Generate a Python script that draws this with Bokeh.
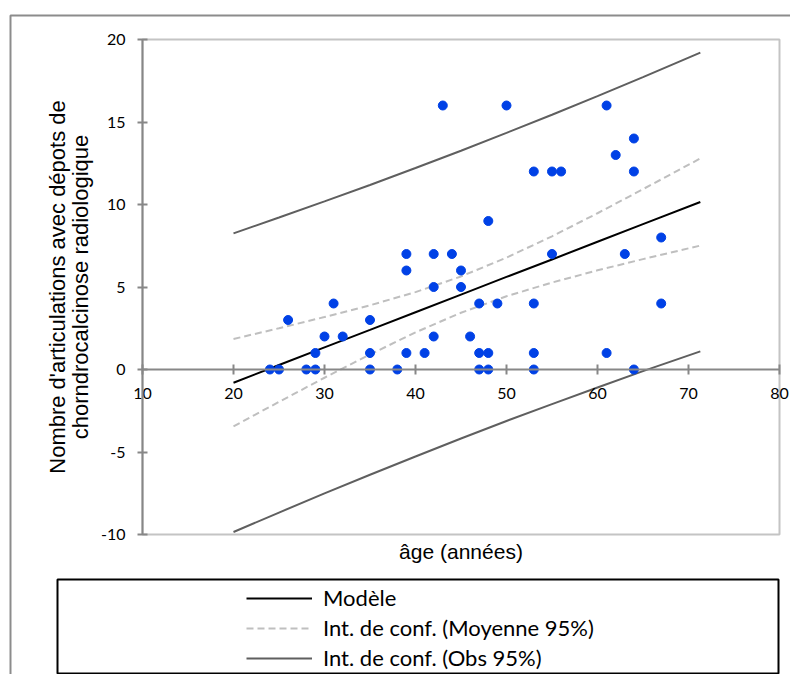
from bokeh.plotting import figure
from bokeh.models import (FixedTicker, Legend, LegendItem, Range1d,
                          ColumnDataSource, BoxAnnotation, Label)
from bokeh.embed import file_html
from bokeh.resources import INLINE

# ---- data ----
age = [24, 25, 26, 28, 29, 29, 30, 31, 32, 35, 35, 35, 38, 39, 39, 39, 41, 42, 42, 42,
       43, 44, 45, 45, 46, 47, 47, 47, 48, 48, 48, 49, 50, 53, 53, 53, 53, 55, 55, 56,
       61, 61, 62, 63, 64, 64, 64, 67, 67]
n_art = [0, 0, 3, 0, 1, 0, 2, 4, 2, 3, 1, 0, 0, 1, 6, 7, 1, 5, 2, 7,
         16, 7, 6, 5, 2, 4, 1, 0, 9, 1, 0, 4, 16, 12, 4, 1, 0, 12, 7, 12,
         16, 1, 13, 7, 14, 12, 0, 8, 4]

line_x = [20, 25, 30, 35, 40, 45, 50, 55, 60, 65, 71.3]
modele = [-0.80, 0.27, 1.34, 2.40, 3.47, 4.54, 5.61, 6.67, 7.74, 8.81, 10.15]
moy_sup = [1.85, 2.50, 3.18, 3.89, 4.69, 5.64, 6.78, 8.07, 9.47, 10.93, 12.79]
moy_inf = [-3.45, -1.96, -0.50, 0.91, 2.25, 3.44, 4.44, 5.27, 6.01, 6.69, 7.51]
obs_sup = [8.25, 9.21, 10.19, 11.18, 12.21, 13.26, 14.34, 15.44, 16.57, 17.72, 19.20]
obs_inf = [-9.85, -8.67, -7.51, -6.38, -5.27, -4.18, -3.12, -2.10, -1.09, -0.10, 1.10]

x_ticks = [10, 20, 30, 40, 50, 60, 70, 80]
y_ticks = [-10, -5, 0, 5, 10, 15, 20]
x_min, x_max = 10, 80
y_min, y_max = -10, 20

x_title = "âge (années)"
y_title = "Nombre d'articulations avec dépots de\nchorndrocalcinose radiologique"
legend_labels = ["Modèle", "Int. de conf. (Moyenne 95%)", "Int. de conf. (Obs 95%)"]

# ---- layout (pixels from the top-left corner) ----
W, H = 790, 674
PA_LEFT, PA_RIGHT, PA_TOP, PA_BOTTOM = 142, 779, 39, 534   # plot area
ux = (x_max - x_min) / (PA_RIGHT - PA_LEFT)
uy = (y_max - y_min) / (PA_BOTTOM - PA_TOP)
x_range = Range1d(x_min - PA_LEFT * ux, x_max + (W - PA_RIGHT) * ux)
y_range = Range1d(y_min - (H - PA_BOTTOM) * uy, y_max + PA_TOP * uy)


def sy(py):
    """screen units in bokeh are measured from the bottom"""
    return H - py


BLUE = "#0041E6"
AXIS_GRAY = "#878787"
MEAN_GRAY = "#BFBFBF"
OBS_GRAY = "#5F5F5F"
TICK_FONT = "Lato"
LABEL_FONT = "Liberation Sans"

p = figure(width=W, height=H, x_range=x_range, y_range=y_range,
           output_backend="svg", toolbar_location=None,
           min_border_left=0, min_border_right=0, min_border_top=0, min_border_bottom=0)
p.grid.visible = False
p.outline_line_color = None

# outer chart border (top and left edges visible)
p.add_layout(BoxAnnotation(left=10, right=3000, top=sy(15), bottom=-3000,
                           left_units="screen", right_units="screen",
                           top_units="screen", bottom_units="screen",
                           fill_alpha=0, line_color="#8C8C8C", line_alpha=1,
                           line_width=2, level="underlay"))
# plot area border
p.add_layout(BoxAnnotation(left=x_min, right=x_max, top=y_max, bottom=y_min,
                           fill_alpha=0, line_color="#C4C4C4", line_alpha=1,
                           line_width=2, level="underlay"))

src = ColumnDataSource(dict(x=line_x, m=modele, ms=moy_sup, mi=moy_inf, os=obs_sup, oi=obs_inf))
r_obs = p.line("x", "os", source=src, line_color=OBS_GRAY, line_width=2)
p.line("x", "oi", source=src, line_color=OBS_GRAY, line_width=2)
r_moy = p.line("x", "ms", source=src, line_color=MEAN_GRAY, line_width=2, line_dash="7 4")
p.line("x", "mi", source=src, line_color=MEAN_GRAY, line_width=2, line_dash="7 4")
r_mod = p.line("x", "m", source=src, line_color="black", line_width=2)
p.scatter(age, n_art, size=9, fill_color=BLUE, line_color=BLUE)

# x axis crossing at y = 0
xa = p.xaxis[0]
xa.fixed_location = 0
xa.bounds = (x_min, x_max)
xa.ticker = FixedTicker(ticks=x_ticks)
xa.axis_line_color = AXIS_GRAY
xa.axis_line_width = 2
xa.major_tick_line_color = AXIS_GRAY
xa.major_tick_line_width = 2
xa.major_tick_in = 5
xa.major_tick_out = 5
xa.minor_tick_line_color = None
xa.major_label_standoff = 13
xa.major_label_text_font = TICK_FONT
xa.major_label_text_font_size = "16px"
xa.major_label_text_color = "black"

# y axis at x = 10
ya = p.yaxis[0]
ya.fixed_location = x_min
ya.bounds = (y_min, y_max)
ya.ticker = FixedTicker(ticks=y_ticks)
ya.major_label_overrides = {t: str(t) for t in y_ticks}
ya.axis_line_color = AXIS_GRAY
ya.axis_line_width = 2
ya.major_tick_line_color = AXIS_GRAY
ya.major_tick_line_width = 2
ya.major_tick_in = 5
ya.major_tick_out = 5
ya.minor_tick_line_color = None
ya.major_label_standoff = 12
ya.major_label_text_font = TICK_FONT
ya.major_label_text_font_size = "16px"
ya.major_label_text_color = "black"
ya.axis_label = y_title
ya.axis_label_text_font = LABEL_FONT
ya.axis_label_text_font_size = "22px"
ya.axis_label_text_line_height = 0.9
ya.axis_label_text_font_style = "normal"
ya.axis_label_text_color = "black"
ya.axis_label_standoff = 5

# x axis title below the plot area
p.add_layout(Label(x=(x_min + x_max) / 2, y=sy(551), y_units="screen",
                   text=x_title, text_align="center", text_baseline="middle",
                   text_font=LABEL_FONT, text_font_size="21px", text_color="black"))

# legend box and legend
p.add_layout(BoxAnnotation(left=57, right=778, top=sy(579), bottom=sy(673),
                           left_units="screen", right_units="screen",
                           top_units="screen", bottom_units="screen",
                           fill_alpha=0, line_color="black", line_alpha=1, line_width=2))
legend = Legend(items=[LegendItem(label=legend_labels[0], renderers=[r_mod]),
                       LegendItem(label=legend_labels[1], renderers=[r_moy]),
                       LegendItem(label=legend_labels[2], renderers=[r_obs])],
                location=(246, 3), glyph_width=66, glyph_height=20, label_standoff=11,
                padding=0, margin=0, spacing=3, border_line_color=None,
                background_fill_alpha=0, label_text_font=TICK_FONT,
                label_text_font_size="22px", label_text_color="black")
p.add_layout(legend, "center")

open("out.html", "w").write(file_html(p, INLINE))
